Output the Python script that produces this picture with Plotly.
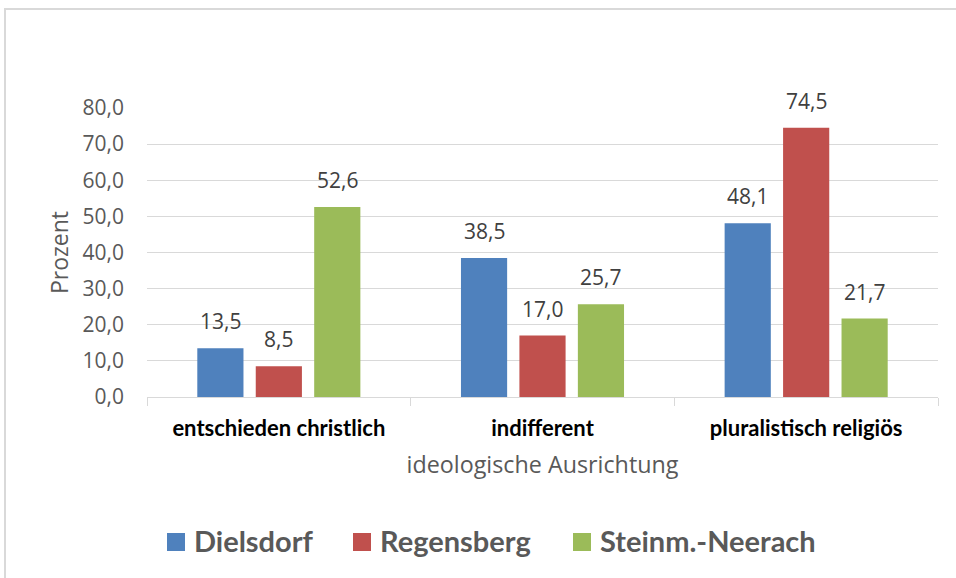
import plotly.graph_objects as go

categories = ["entschieden christlich", "indifferent", "pluralistisch religiös"]
series_names = ["Dielsdorf", "Regensberg", "Steinm.-Neerach"]
dielsdorf = [13.5, 38.5, 48.1]
regensberg = [8.5, 17.0, 74.5]
steinm_neerach = [52.6, 25.7, 21.7]
y_ticks = [0, 10, 20, 30, 40, 50, 60, 70, 80]

colors = ["#4F81BD", "#C0504D", "#9BBB59"]
SANS = "'Open Sans', sans-serif"
BOLD = "Lato, sans-serif"

W, H = 956, 578
L, R, T, B = 147, 18, 108, 181
PW, PH = W - L - R, H - T - B


def px_x(px):
    return (px - L) / PW


def px_y(py):
    return (H - B - py) / PH


all_series = [dielsdorf, regensberg, steinm_neerach]

fig = go.Figure()
for name, vals, col in zip(series_names, all_series, colors):
    fig.add_trace(go.Bar(
        name=name, x=categories, y=vals, marker_color=col, marker_line_width=0,
        showlegend=False,
    ))

bargap = 0.335
slot = PW / len(categories) * (1 - bargap) / len(series_names)
annotations = []
for i, vals in enumerate(all_series):
    for cat, v in zip(categories, vals):
        annotations.append(dict(
            x=cat, y=v, xref="x", yref="y", text=f"{v:.1f}".replace(".", ","),
            showarrow=False, yanchor="bottom", xanchor="center",
            xshift=(i - 1) * slot, yshift=11,
            font=dict(size=21, color="#404040", family=SANS),
        ))

# custom legend (larger squares, as in the reference)
legend_sq_x = [167, 353, 573]
shapes = [dict(type="rect", xref="paper", yref="paper",
               x0=-0.1795, x1=1.05, y0=-0.8, y1=px_y(9),
               line=dict(color="#D9D9D9", width=2), fillcolor="rgba(0,0,0,0)", layer="below")]
for name, col, sx in zip(series_names, colors, legend_sq_x):
    shapes.append(dict(type="rect", xref="paper", yref="paper",
                       x0=px_x(sx), x1=px_x(sx + 18), y0=px_y(551), y1=px_y(533),
                       fillcolor=col, line=dict(width=0)))
    annotations.append(dict(x=px_x(sx + 25), y=px_y(540), xref="paper", yref="paper",
                            text=name, showarrow=False, xanchor="left", yanchor="middle",
                            font=dict(size=29, color="#595959", family=BOLD, weight="bold")))

fig.update_layout(
    width=W, height=H,
    margin=dict(l=L, r=R, t=T, b=B),
    paper_bgcolor="white", plot_bgcolor="white",
    separators=",.",
    barmode="group", bargap=bargap, bargroupgap=0.21,
    font=dict(family=SANS, color="#595959"),
    showlegend=False,
    xaxis=dict(
        showline=True, linecolor="#D9D9D9", linewidth=1,
        ticks="outside", tickson="boundaries", ticklen=8, tickcolor="#D9D9D9",
        tickfont=dict(size=22, color="#000000", family=BOLD, weight="bold"),
        ticklabelstandoff=12,
        title=dict(text="ideologische Ausrichtung", font=dict(size=23.3, color="#595959", family=SANS), standoff=16),
    ),
    yaxis=dict(
        range=[0, 80], tickvals=y_ticks, tickformat=".1f",
        showgrid=True, gridcolor="#D9D9D9", gridwidth=1,
        zeroline=False, showline=False,
        tickfont=dict(size=21, color="#595959", family=SANS),
        ticklabelstandoff=22,
        title=dict(text="Prozent", font=dict(size=23, color="#595959", family=SANS), standoff=7),
    ),
    shapes=shapes,
    annotations=annotations,
)

fig.write_html("out.html", config={"displayModeBar": False},
               post_script="document.body.style.margin='0px';")
